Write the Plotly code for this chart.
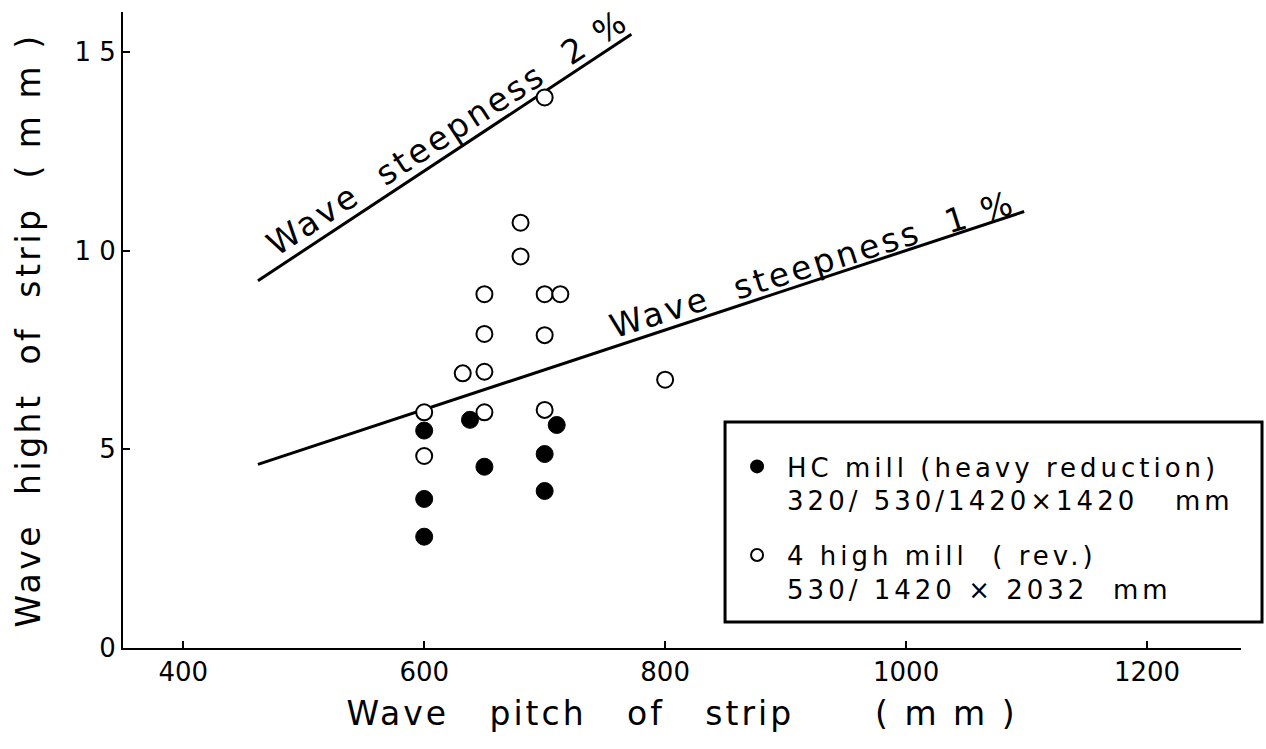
import plotly.graph_objects as go

FONT = "DejaVu Sans"

# HC mill (heavy reduction) - filled circles
hc_pitch = [600, 600, 600, 638, 650, 700, 700, 710]
hc_height = [5.47, 3.75, 2.80, 5.74, 4.56, 4.88, 3.95, 5.61]

# 4 high mill (rev.) - open circles
fh_pitch = [700, 680, 680, 650, 700, 713, 650, 700, 632, 650, 600, 650, 700, 600, 800]
fh_height = [13.85, 10.70, 9.85, 8.90, 8.90, 8.90, 7.90, 7.87, 6.91, 6.95, 5.93, 5.93, 5.99, 4.83, 6.75]

# Wave steepness reference lines
s2_pitch = [462, 772]
s2_height = [9.24, 15.44]
s1_pitch = [462, 1098]
s1_height = [4.62, 10.98]

x_ticks = [400, 600, 800, 1000, 1200]
x_ticktext = ["400", "600", "800", "1000", "1200"]
y_ticks = [0, 5, 10, 15]
y_ticktext = ["0", "5", "1 0", "1 5"]


def spaced(text, px):
    return '<span style="letter-spacing:%spx">%s</span>' % (px, text)


fig = go.Figure()

fig.add_trace(go.Scatter(x=s2_pitch, y=s2_height, mode="lines",
                         line=dict(color="black", width=3), showlegend=False, hoverinfo="skip"))
fig.add_trace(go.Scatter(x=s1_pitch, y=s1_height, mode="lines",
                         line=dict(color="black", width=3), showlegend=False, hoverinfo="skip"))

fig.add_trace(go.Scatter(
    x=fh_pitch, y=fh_height, mode="markers",
    name=spaced("4 high mill  ( rev.)", 4) + "<br>" + spaced("530/ 1420 × 2032  mm", 4),
    legendgroup="b", legendrank=2,
    marker=dict(symbol="circle", size=16, color="white", line=dict(color="black", width=2)),
))
fig.add_trace(go.Scatter(
    x=hc_pitch, y=hc_height, mode="markers",
    name=spaced("HC mill (heavy reduction)", 4) + "<br>" + spaced("320/ 530/1420×1420   mm", 4),
    legendgroup="a", legendrank=1,
    marker=dict(symbol="circle", size=17, color="black", line=dict(color="black", width=1)),
))

fig.add_annotation(x=619, y=12.98, text=spaced("Wave  steepness  2 %", 3), showarrow=False,
                   textangle=-33, font=dict(family=FONT, size=33, color="black"))
fig.add_annotation(x=922, y=9.66, text=spaced("Wave  steepness  1 %", 3), showarrow=False,
                   textangle=-17.4, font=dict(family=FONT, size=33, color="black"))

# legend frame
fig.add_shape(type="rect", xref="paper", yref="paper",
              x0=0.5385, x1=1.0188, y0=0.0409, y1=0.3553,
              line=dict(color="black", width=3), fillcolor="rgba(0,0,0,0)", layer="above")

fig.update_layout(
    width=1266, height=749,
    margin=dict(l=123, r=25, t=12, b=101),
    paper_bgcolor="white", plot_bgcolor="white",
    font=dict(family=FONT, color="black"),
    showlegend=True,
    legend=dict(
        x=0.5403, y=0.3223, xanchor="left", yanchor="top",
        borderwidth=0, bgcolor="rgba(0,0,0,0)",
        font=dict(family=FONT, size=26, color="black"),
        tracegroupgap=18, valign="top", traceorder="grouped",
        itemsizing="constant", itemwidth=50,
    ),
    xaxis=dict(
        range=[350, 1278], showgrid=False, zeroline=False,
        showline=True, linecolor="black", linewidth=2,
        ticks="inside", ticklen=7, tickwidth=2, tickcolor="black",
        tickvals=x_ticks, ticktext=x_ticktext,
        tickfont=dict(family=FONT, size=26, color="black"),
        title=dict(text=spaced("Wave   pitch   of   strip      ( m m )", 3),
                   font=dict(family=FONT, size=33, color="black"), standoff=16),
    ),
    yaxis=dict(
        range=[0, 16], showgrid=False, zeroline=False,
        showline=True, linecolor="black", linewidth=2,
        ticks="inside", ticklen=7, tickwidth=2, tickcolor="black",
        tickvals=y_ticks, ticktext=y_ticktext,
        tickfont=dict(family=FONT, size=26, color="black"),
        title=dict(text=spaced("Wave  hight  of  strip  ( m m )", 3.5),
                   font=dict(family=FONT, size=33, color="black"), standoff=24),
    ),
)

fig.write_html("out.html")
